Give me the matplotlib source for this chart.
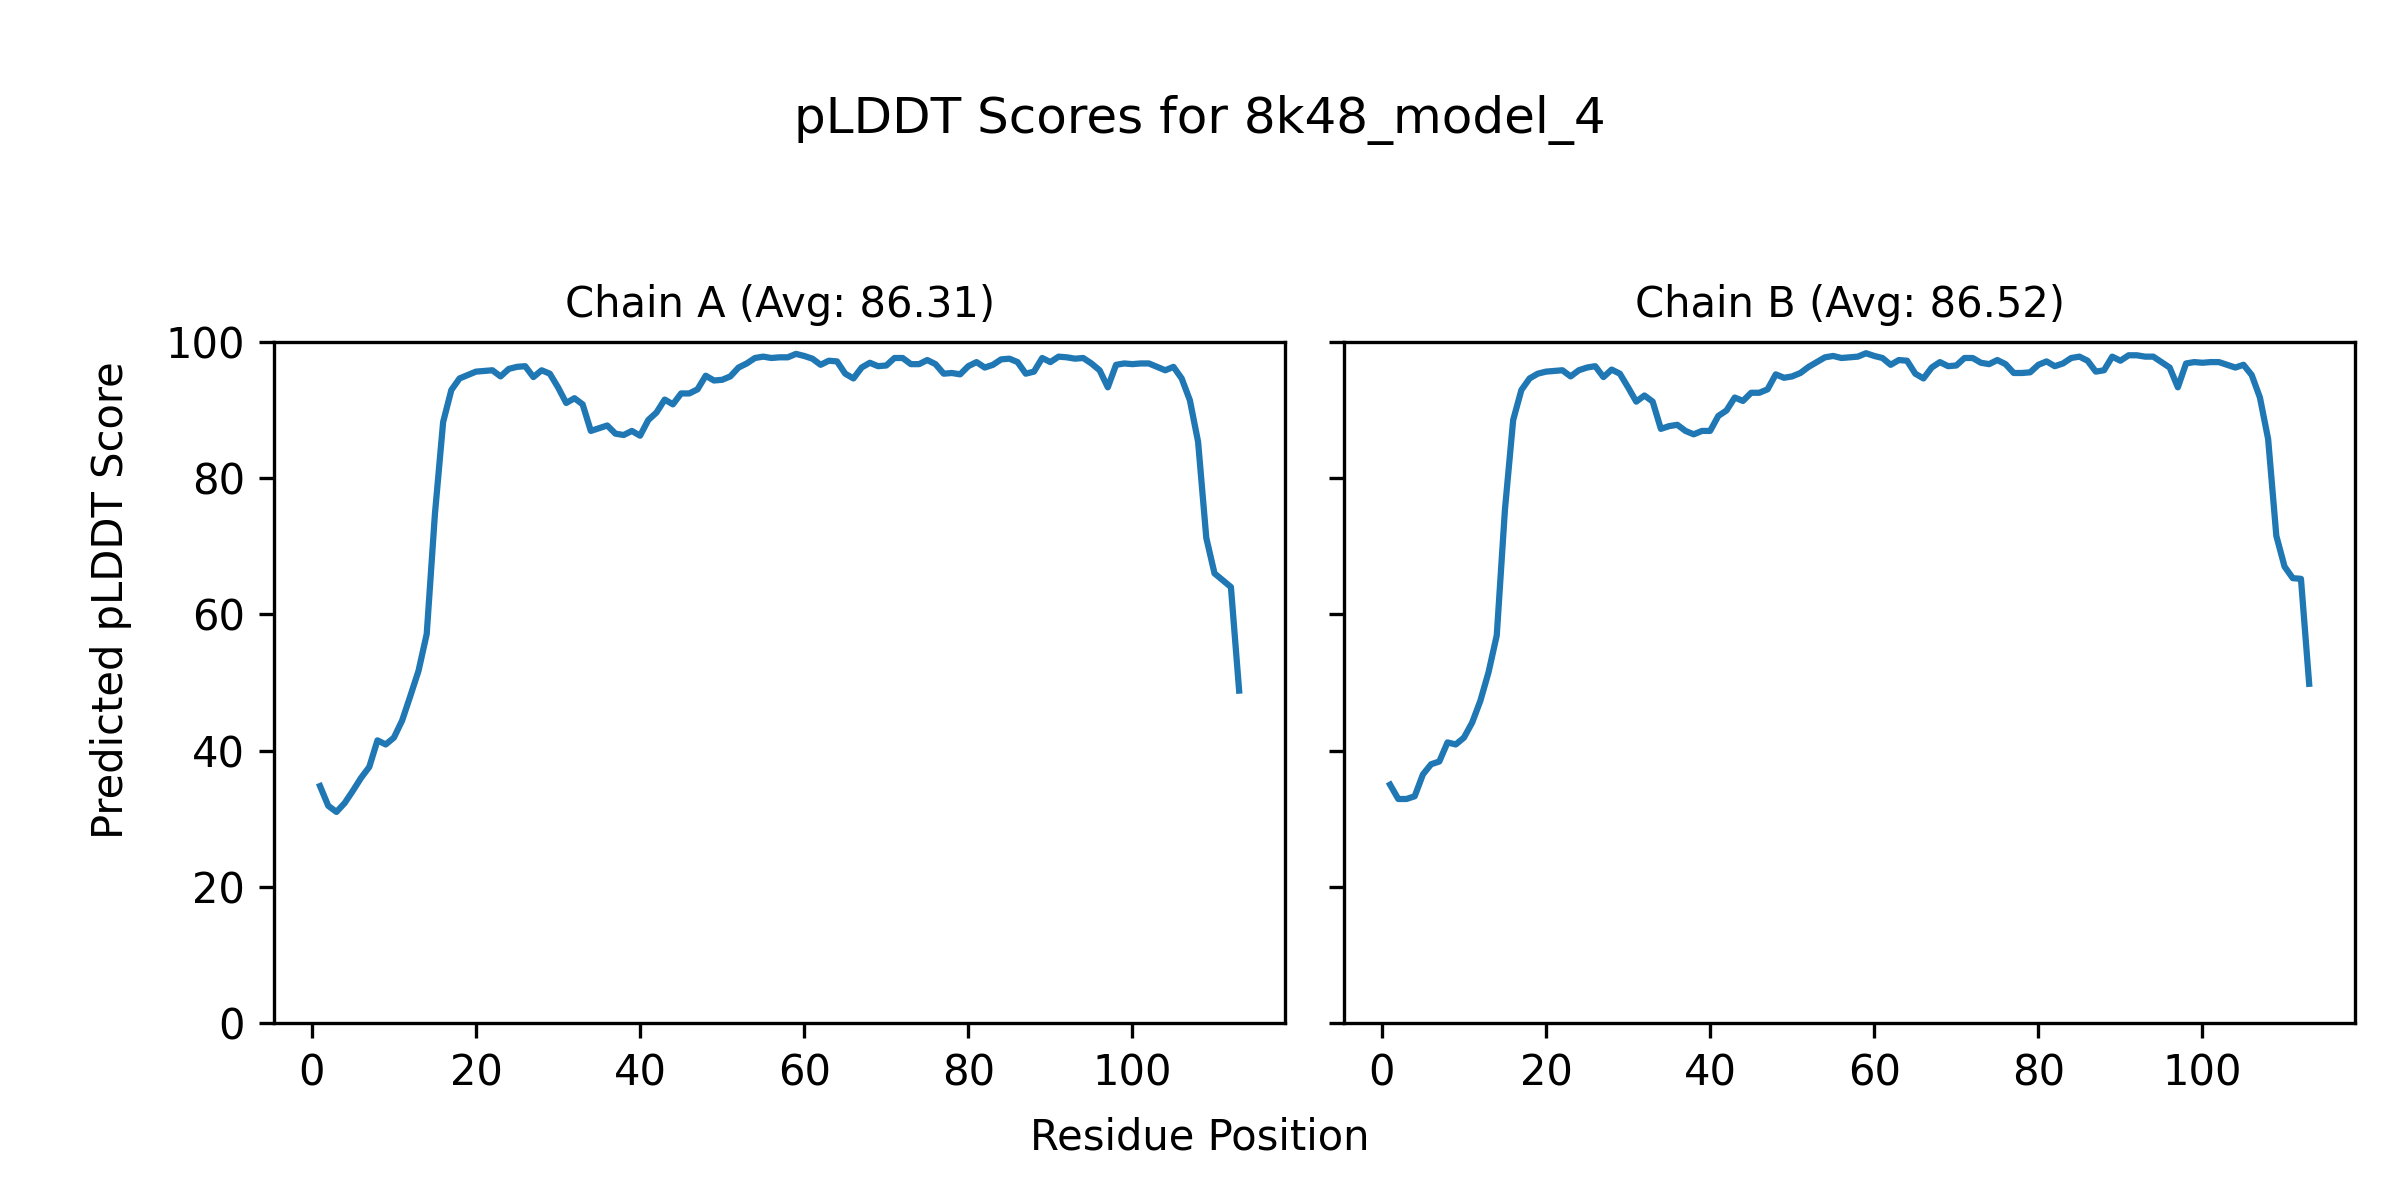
import matplotlib
matplotlib.use('Agg')
import matplotlib.pyplot as plt

# pLDDT per residue
chain_a_scores = [
    34.8, 31.9, 31.0, 32.3, 34.1, 36.0, 37.6, 41.5, 40.9, 41.9,
    44.4, 48.0, 51.7, 57.1, 74.7, 88.2, 92.9, 94.6, 95.1, 95.6,
    95.7, 95.8, 94.9, 96.0, 96.3, 96.4, 94.8, 95.8, 95.3, 93.3,
    91.0, 91.7, 90.8, 86.9, 87.3, 87.7, 86.5, 86.3, 86.9, 86.2,
    88.5, 89.6, 91.5, 90.8, 92.4, 92.4, 93.0, 95.0, 94.3, 94.4,
    94.9, 96.2, 96.8, 97.6, 97.8, 97.6, 97.7, 97.7, 98.2, 97.9,
    97.5, 96.6, 97.2, 97.1, 95.3, 94.6, 96.2, 96.9, 96.4, 96.5,
    97.6, 97.6, 96.7, 96.7, 97.3, 96.7, 95.3, 95.4, 95.2, 96.4,
    97.0, 96.2, 96.6, 97.4, 97.5, 97.0, 95.3, 95.6, 97.6, 97.0,
    97.8, 97.7, 97.5, 97.6, 96.8, 95.8, 93.3, 96.6, 96.8, 96.7,
    96.8, 96.8, 96.3, 95.8, 96.3, 94.6, 91.4, 85.3, 71.2, 66.0,
    65.0, 64.0, 48.8,
]
chain_b_scores = [
    35.0, 32.9, 32.9, 33.3, 36.5, 38.0, 38.4, 41.2, 40.9, 41.9,
    44.1, 47.3, 51.5, 56.9, 75.4, 88.5, 92.9, 94.6, 95.3, 95.6,
    95.7, 95.8, 94.9, 95.8, 96.2, 96.4, 94.8, 95.9, 95.3, 93.3,
    91.2, 92.1, 91.2, 87.2, 87.6, 87.8, 86.9, 86.4, 86.9, 86.9,
    89.1, 89.9, 91.8, 91.3, 92.5, 92.5, 93.0, 95.2, 94.7, 94.9,
    95.4, 96.3, 97.0, 97.7, 97.9, 97.6, 97.7, 97.8, 98.3, 97.9,
    97.6, 96.6, 97.3, 97.2, 95.3, 94.6, 96.2, 97.0, 96.4, 96.5,
    97.6, 97.6, 96.9, 96.7, 97.3, 96.7, 95.4, 95.4, 95.5, 96.6,
    97.1, 96.4, 96.8, 97.6, 97.8, 97.2, 95.6, 95.8, 97.8, 97.2,
    98.0, 98.0, 97.8, 97.8, 97.0, 96.2, 93.3, 96.8, 97.0, 96.9,
    97.0, 97.0, 96.6, 96.2, 96.6, 95.1, 91.8, 85.7, 71.5, 67.0,
    65.3, 65.2, 49.8,
]
chain_names = ['A', 'B']
chain_avgs = [86.31, 86.52]

fig, axes = plt.subplots(1, 2, figsize=(8, 4), dpi=300, sharey=True)
fig.subplots_adjust(left=0.1142, right=0.9813, bottom=0.1473, top=0.7153, wspace=0.0584)

for ax, name, avg, scores in zip(axes, chain_names, chain_avgs,
                                 [chain_a_scores, chain_b_scores]):
    residues = list(range(1, len(scores) + 1))
    ax.plot(residues, scores, color='#1f77b4', linewidth=1.5)
    ax.set_title(f'Chain {name} (Avg: {avg:.2f})', fontsize=10)
    ax.set_ylim(0, 100)

fig.suptitle('pLDDT Scores for 8k48_model_4', fontsize=12, y=0.9, va='center')
fig.supxlabel('Residue Position', fontsize=10, y=0.0525, va='center')
fig.supylabel('Predicted pLDDT Score', fontsize=10, x=0.0463, ha='center')

plt.savefig('out.png', dpi=300)
